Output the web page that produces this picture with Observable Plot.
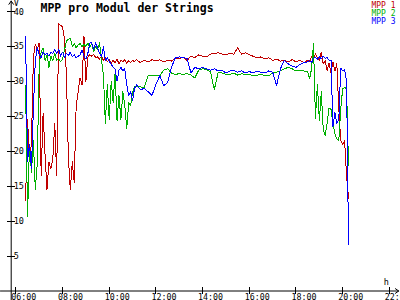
<!DOCTYPE html>
<html><head><meta charset="utf-8">
<script src="https://cdn.jsdelivr.net/npm/d3@7"></script>
<script src="https://cdn.jsdelivr.net/npm/@observablehq/plot@0.6"></script>
<style>html,body{margin:0;padding:0;background:#fff}svg{display:block}</style>
</head><body><div id="chart"></div>
<script>
const title = "MPP pro Modul der Strings";
const seriesNames = ["MPP 1", "MPP 2", "MPP 3"];
const seriesColors = ["#c00000", "#00b000", "#0000ff"];
const yTicks = [5, 10, 15, 20, 25, 30, 35, 40];
const xTicks = [6, 8, 10, 12, 14, 16, 18, 20, 22];
const xTickLabels = ["06:00","08:00","10:00","12:00","14:00","16:00","18:00","20:00","22:00"];
const yLabel = "V";
const xLabel = "h";

const times = [
 "06:25","06:30","06:35","06:40","06:45","06:50","06:55",
 "07:00","07:05","07:10","07:15","07:20","07:25","07:30","07:35","07:40","07:45","07:50","07:55",
 "08:00","08:05","08:10","08:15","08:20","08:25","08:30","08:35","08:40","08:45","08:50","08:55",
 "09:00","09:05","09:10","09:15","09:20","09:25","09:30","09:35","09:40","09:45","09:50","09:55",
 "10:00","10:05","10:10","10:15","10:20","10:25","10:30","10:35","10:40","10:45","10:50","10:55",
 "11:00","11:05","11:10","11:20","11:30","11:40","11:50",
 "12:00","12:10","12:20","12:30","12:40","12:50",
 "13:00","13:10","13:20","13:30","13:40","13:50",
 "14:00","14:10","14:20","14:30","14:40","14:50",
 "15:00","15:10","15:20","15:30","15:40","15:50",
 "16:00","16:10","16:20","16:30","16:40","16:50",
 "17:00","17:10","17:20","17:30","17:40","17:50",
 "18:00","18:10","18:20","18:30","18:35","18:40","18:45","18:50","18:55",
 "19:00","19:05","19:10","19:15","19:20","19:25","19:30","19:35","19:40","19:45","19:50","19:55",
 "20:00","20:05","20:10","20:15"
];

const mpp1 = [
 13.0, 24.5, 19.0, 21.0, 33.5, 35.3, 34.6,
 35.5, 16.5, 25.5, 19.5, 14.5, 18.5, 17.5, 19.0, 24.0, 16.5, 38.3, 38.0,
 37.8, 36.0, 31.0, 19.0, 14.5, 18.5, 15.5, 26.5, 28.5, 30.5, 29.5, 36.5,
 30.0, 33.5, 33.8, 33.6, 33.9, 33.4, 33.5, 33.2, 33.6, 33.0, 33.4, 32.8,
 33.2, 32.6, 33.0, 32.7, 33.2, 32.5, 33.0, 32.8, 33.1, 32.6, 33.0, 32.7,
 33.0, 32.8, 33.1, 32.7, 33.0, 32.8, 33.1,
 32.9, 33.1, 32.8, 33.0, 32.9, 33.4,
 33.2, 33.5, 33.0, 33.6, 33.4, 33.8,
 33.6, 33.5, 33.9, 34.0, 34.1, 33.9,
 33.8, 34.0, 33.9, 34.8, 33.9, 34.1,
 33.8, 33.6, 33.4, 33.5, 33.2, 33.4,
 33.0, 33.2, 32.9, 33.0, 32.8, 33.1,
 32.8, 33.0, 32.7, 33.0, 32.8, 33.5, 33.2, 34.0, 33.4,
 33.0, 34.2, 32.5, 33.0, 31.5, 32.6, 31.2, 32.8, 31.5, 32.5, 26.2, 21.5,
 21.0, 21.5, 16.5, 13.3
];

const mpp2 = [
 29.4, 10.6, 21.0, 17.0, 21.5, 14.5, 18.3,
 32.5, 34.2, 34.8, 33.0, 33.8, 32.0, 33.6, 33.0, 34.0, 33.0, 33.2, 32.8,
 33.2, 34.5, 35.8, 36.0, 36.2, 35.0, 35.4, 34.8, 35.2, 35.4, 35.0, 35.3,
 35.0, 35.5, 34.8, 35.4, 34.2, 35.0, 34.5, 35.5, 33.0, 31.0, 24.0, 29.5,
 24.5, 30.0, 27.0, 31.2, 24.4, 28.0, 24.5, 28.5, 26.5, 23.2, 27.0, 26.5,
 28.5, 29.2, 29.2, 29.2, 29.1, 30.8, 30.8,
 30.8, 30.8, 31.6, 31.8, 31.2, 31.0,
 31.1, 31.0, 31.1, 30.9, 30.5, 31.6,
 31.8, 31.7, 31.4, 28.8, 31.3, 31.2,
 31.0, 31.0, 31.2, 30.9, 31.1, 31.0,
 31.0, 30.8, 30.9, 31.0, 30.8, 30.8,
 31.2, 31.3, 31.5, 31.8, 32.0, 31.8,
 31.5, 31.6, 31.5, 31.4, 30.4, 31.8, 35.4, 24.7, 29.6,
 24.4, 28.5, 23.2, 22.2, 24.0, 26.2, 26.0, 24.0, 22.5, 21.8, 21.5, 26.0,
 29.0, 29.1, 29.0, 18.0
];

const mpp3 = [
 36.4, 18.5, 21.0, 17.5, 26.0, 33.0, 34.8,
 33.8, 33.4, 34.2, 33.8, 34.0, 33.6, 34.2, 34.0, 34.5, 34.0, 34.6, 33.6,
 34.2, 33.4, 34.0, 33.7, 34.2, 33.5, 33.8, 33.4, 33.6, 33.8, 34.5, 33.6,
 33.2, 34.0, 35.5, 35.5, 34.6, 35.5, 34.8, 34.0, 33.5, 35.0, 33.0, 33.4,
 32.8, 32.5, 32.0, 31.8, 30.0, 31.6, 32.0, 31.5, 31.8, 29.5, 28.0, 28.5,
 27.3, 29.0, 29.5, 28.8, 29.0, 28.5, 28.0,
 29.6, 30.8, 29.4, 29.8, 32.0, 33.4,
 33.5, 33.4, 33.3, 31.2, 32.0, 31.8,
 32.0, 31.8, 31.6, 31.8, 31.5, 31.6,
 31.2, 31.5, 31.6, 31.3, 31.5, 31.2,
 31.4, 31.2, 31.5, 31.3, 31.2, 31.5,
 31.3, 29.4, 31.8, 33.0, 32.5, 32.2,
 32.0, 32.4, 32.7, 32.8, 33.0, 32.7, 33.3, 33.4, 33.2,
 33.5, 33.2, 33.6, 33.3, 33.4, 33.0, 33.0, 23.5, 25.5, 24.0, 24.5, 31.9,
 31.5, 31.7, 30.0, 6.7
];

const toHours = s => { const [h, m] = s.split(":").map(Number); return h + m / 60; };
const data = [];
[mpp1, mpp2, mpp3].forEach((vals, i) =>
  vals.forEach((v, j) => data.push({ t: toHours(times[j]), v, s: seriesNames[i] })));

const x0 = 5.8;           // y axis crossing (hours)
const axes = [
  { x1: 5.34, y1: 0, x2: 22.4, y2: 0 },
  { x1: x0, y1: -1.4, x2: x0, y2: 41.5 }
];

const font = "DejaVu Sans Mono";
const chart = Plot.plot({
  width: 400, height: 300,
  marginTop: 0, marginRight: 0, marginBottom: 0, marginLeft: 0,
  x: { domain: [5.8, 22.4], range: [10.7, 398.2], axis: null },
  y: { domain: [0, 40], range: [290.5, 11], axis: null },
  color: { domain: seriesNames, range: seriesColors },
  style: { fontFamily: font, background: "#ffffff", color: "#000" },
  marks: [
    Plot.line(data, { x: "t", y: "v", z: "s", stroke: "s", strokeWidth: 1, shapeRendering: "crispEdges" }),
    Plot.arrow(axes, { x1: "x1", y1: "y1", x2: "x2", y2: "y2", stroke: "#000", strokeWidth: 1, headLength: 6, headAngle: 70 }),
    Plot.ruleX(xTicks, { x: d => d, y1: -0.5, y2: 0.5, stroke: "#000", shapeRendering: "crispEdges" }),
    Plot.ruleY(yTicks, { y: d => d, x1: x0 - 0.15, x2: x0 + 0.17, stroke: "#000", shapeRendering: "crispEdges" }),
    Plot.text(xTicks, { x: d => d, y: 0, text: (d, i) => xTickLabels[i], dx: -4.5, dy: 8.5, textAnchor: "start", lineAnchor: "bottom", fontSize: 8.3, fill: "#000" }),
    Plot.text(yTicks, { x: x0, y: d => d, text: d => String(d), dx: 2.5, dy: 3, textAnchor: "start", lineAnchor: "bottom", fontSize: 8.5, fill: "#000" }),
    Plot.text([yLabel], { x: x0, y: 41.5, text: d => d, dx: 2.5, dy: 4.5, textAnchor: "start", lineAnchor: "bottom", fontSize: 8.5, fill: "#000" }),
    Plot.text([xLabel], { x: 22, y: 0, text: d => d, dx: -3, dy: -6, textAnchor: "middle", lineAnchor: "bottom", fontSize: 8.5, fill: "#000" }),
    Plot.text([title], { frameAnchor: "top-left", text: d => d, dx: 40, dy: 11.5, textAnchor: "start", lineAnchor: "bottom", fontSize: 11.5, fontWeight: "bold", fill: "#000" }),
    ...seriesNames.map((n, i) => Plot.text([n], { frameAnchor: "top-right", text: d => d, dx: -5, dy: 7 + 8 * i, textAnchor: "end", lineAnchor: "bottom", fontSize: 8, fill: seriesColors[i] }))
  ]
});
document.getElementById("chart").appendChild(chart);
</script>
</body></html>
